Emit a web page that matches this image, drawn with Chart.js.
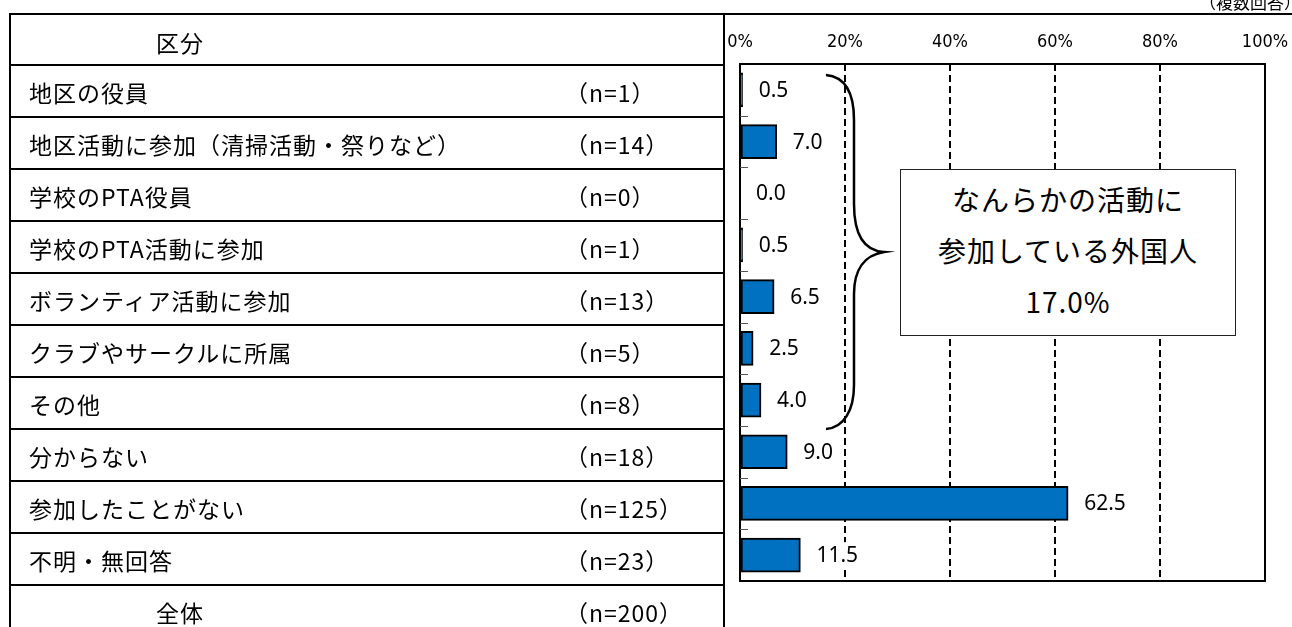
<!DOCTYPE html>
<html lang="ja">
<head>
<meta charset="utf-8">
<script src="https://cdn.jsdelivr.net/npm/chart.js@4.4.1/dist/chart.umd.min.js"></script>
<style>
  html, body { margin: 0; padding: 0; background: #fff; }
  #wrap { position: relative; width: 1292px; height: 627px; overflow: hidden; font-family: "Noto Sans CJK JP", "Noto Sans", sans-serif; color: #000; }
  #chart { position: absolute; left: 0; top: 0; }
  .ln { position: absolute; background: #000; }
  .txt { position: absolute; white-space: nowrap; font-size: 23px; letter-spacing: 1px; height: 52px; line-height: 52px; }
  #note { position: absolute; right: -9px; top: -10px; font-size: 17px; line-height: 24px; white-space: nowrap; }
  #callout { position: absolute; left: 900px; top: 169px; width: 336px; height: 167px; box-sizing: border-box;
             border: 1.5px solid #222; background: #fff; text-align: center; font-size: 28px; letter-spacing: 1px;
             line-height: 51px; padding-top: 4px; }
</style>
</head>
<body>
<div id="wrap">
  <canvas id="chart" width="1292" height="627"></canvas>
  <div id="note">（複数回答）</div>
  <div id="table"></div>
  <div id="callout"></div>
</div>
<script>
// 参加している地域活動（複数回答）
const categories = [
  '地区の役員',
  '地区活動に参加（清掃活動・祭りなど）',
  '学校のPTA役員',
  '学校のPTA活動に参加',
  'ボランティア活動に参加',
  'クラブやサークルに所属',
  'その他',
  '分からない',
  '参加したことがない',
  '不明・無回答'
];
const counts = [1, 14, 0, 1, 13, 5, 8, 18, 125, 23];
const percents = [0.5, 7.0, 0.0, 0.5, 6.5, 2.5, 4.0, 9.0, 62.5, 11.5];
const totalLabel = '全体';
const totalCount = 200;
const headerLabel = '区分';
const tickLabels = ['0%', '20%', '40%', '60%', '80%', '100%'];
const calloutLines = ['なんらかの活動に', '参加している外国人'];
const participatingShare = 17.0;
const activityRange = [0, 6]; // 地区の役員 … その他

// ---- 左側の区分表 ----
const table = document.getElementById('table');
function addLine(l, t, w, h) {
  const d = document.createElement('div');
  d.className = 'ln';
  Object.assign(d.style, { left: l + 'px', top: t + 'px', width: w + 'px', height: h + 'px' });
  table.appendChild(d);
}
function addText(text, l, t, opts) {
  const d = document.createElement('div');
  d.className = 'txt';
  d.textContent = text;
  d.style.left = l + 'px';
  d.style.top = t + 'px';
  if (opts && opts.center) { d.style.transform = 'translateX(-50%)'; }
  table.appendChild(d);
}
const rowTop = 65, rowH = 52;
addLine(9, 13, 1283, 2);        // 上端の罫線
addLine(9, 13, 2, 614);         // 左端
addLine(723, 13, 2, 614);       // 表とグラフの境
for (let i = 0; i <= categories.length; i++) addLine(9, rowTop - 1 + rowH * i, 716, 2);
addText(headerLabel, 180, 14 + 2, { center: true });
categories.forEach((c, i) => {
  addText(c, 29, rowTop + rowH * i + 1);
  addText('（n=' + counts[i] + '）', 565, rowTop + rowH * i + 1);
});
const totalTop = rowTop + rowH * categories.length + 1;
addText(totalLabel, 180, totalTop, { center: true });
addText('（n=' + totalCount + '）', 565, totalTop);

// ---- 吹き出し ----
const callout = document.getElementById('callout');
[...calloutLines, participatingShare.toFixed(1) + '%'].forEach(s => {
  const d = document.createElement('div');
  d.textContent = s;
  callout.appendChild(d);
});

// ---- グラフ用プラグイン ----
const frameAndLabels = {
  id: 'frameAndLabels',
  afterDatasetsDraw(chart) {
    const { ctx, chartArea: a, scales: { x, y } } = chart;
    ctx.save();
    // 枠線
    ctx.strokeStyle = '#000';
    ctx.lineWidth = 2;
    ctx.setLineDash([]);
    ctx.strokeRect(a.left, a.top, a.right - a.left, a.bottom - a.top);
    // 区分の境目の目盛り
    const step = y.getPixelForValue(1) - y.getPixelForValue(0);
    ctx.strokeStyle = '#555';
    ctx.lineWidth = 1;
    for (let i = 1; i < categories.length; i++) {
      const py = Math.round(y.getPixelForValue(i) - step / 2) + 0.5;
      ctx.beginPath(); ctx.moveTo(a.left, py); ctx.lineTo(a.left + 8, py); ctx.stroke();
    }
    // 数値ラベル
    ctx.font = '21px "Noto Sans", "DejaVu Sans", sans-serif';
    ctx.textBaseline = 'middle';
    ctx.textAlign = 'left';
    const meta = chart.getDatasetMeta(0);
    meta.data.forEach((bar, i) => {
      const label = percents[i].toFixed(1);
      const tx = x.getPixelForValue(percents[i]) + 16;
      const w = ctx.measureText(label).width;
      ctx.fillStyle = '#fff';
      ctx.fillRect(tx - 3, bar.y - 13, w + 6, 26);
      ctx.fillStyle = '#000';
      ctx.fillText(label, tx, bar.y + 1);
    });
    // 活動参加項目をまとめる波括弧
    const top = y.getPixelForValue(activityRange[0]) - step / 2 + 11;
    const bot = y.getPixelForValue(activityRange[1]) + step / 2 + 3;
    const mid = (top + bot) / 2;
    const x0 = x.getPixelForValue(20) - 19;
    const xs = x0 + 28, xt = x0 + 58;
    ctx.strokeStyle = '#000';
    ctx.lineWidth = 2.5;
    ctx.beginPath();
    ctx.moveTo(x0, top);
    ctx.bezierCurveTo(x0 + 21, top + 2, xs, top + 20, xs, top + 45);
    ctx.lineTo(xs, mid - 48);
    ctx.bezierCurveTo(xs, mid - 13, xs + 13, mid - 1, xt, mid);
    ctx.bezierCurveTo(xs + 11, mid + 3, xs, mid + 17, xs, mid + 42);
    ctx.lineTo(xs, bot - 44);
    ctx.bezierCurveTo(xs, bot - 19, xs - 10, bot - 1, x0, bot);
    ctx.stroke();
    ctx.restore();
  }
};

new Chart(document.getElementById('chart'), {
  type: 'bar',
  data: {
    labels: categories,
    datasets: [{
      data: percents,
      backgroundColor: '#0070C0',
      borderColor: '#000',
      borderWidth: 2,
      borderSkipped: false,
      barThickness: 34
    }]
  },
  options: {
    indexAxis: 'y',
    responsive: false,
    animation: false,
    events: [],
    layout: { padding: { top: 0, left: 0, right: 27, bottom: 46 } },
    plugins: { legend: { display: false }, tooltip: { enabled: false } },
    scales: {
      x: {
        position: 'top',
        min: 0, max: 100,
        ticks: {
          stepSize: 20,
          padding: 11,
          color: '#000',
          font: { family: '"Liberation Sans Narrow", "DejaVu Sans Condensed", "Liberation Sans", sans-serif', size: 18 },
          callback: (v, i) => tickLabels[i]
        },
        grid: {
          drawTicks: false,
          lineWidth: 2,
          color: c => (c.tick && (c.tick.value === 0 || c.tick.value === 100)) ? 'rgba(0,0,0,0)' : '#000'
        },
        border: { display: false, dash: [7, 4] },
        afterFit: s => { s.height = 64; s.paddingLeft = 0; s.paddingRight = 0; }
      },
      y: {
        ticks: { display: false },
        grid: { display: false },
        border: { display: false },
        afterFit: s => { s.width = 740; s.paddingTop = 0; s.paddingBottom = 0; }
      }
    }
  },
  plugins: [frameAndLabels]
});
</script>
</body>
</html>
